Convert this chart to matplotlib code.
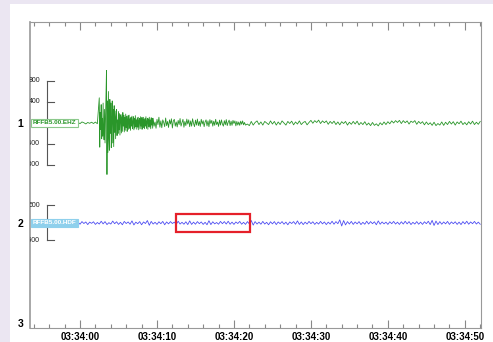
import matplotlib
matplotlib.use("Agg")
import matplotlib.pyplot as plt
from matplotlib.patches import Rectangle
from matplotlib.ticker import MultipleLocator, FuncFormatter
import numpy as np

plt.rcParams['font.family'] = ['Liberation Sans', 'DejaVu Sans']

# times are seconds after 03:34:00
# EHZ before the onset: t = -0.25 .. 2.25, every 0.25 s
ehz_pre = [8, -12, 20, 5, -18, 10, -6, 15, -10, 18, -14]

# EHZ around the onset: t = 2.5 .. 9.4375, every 0.0625 s
ehz_onset = [
    480, -460, 200, -120, 350, -300, 90, -250,
    380, -150, -320, 260, -380, 120, 540, 1000,
    -980, 420, -560, 600, -300, -520, 450, -200,
    380, -470, 100, 420, -380, 260, -450, 330,
    -180, 230, -300, 120, 260, -240, 60, -200,
    220, -130, 180, -230, 90, 160, -190, 120,
    -160, 200, -60, 150, -170, 110, -140, 170,
    -90, 130, -160, 40, 140, -120, 150, -100,
    80, -140, 110, -60, 130, -110, 30, 120,
    -130, 90, -100, 140, -70, 60, -120, 100,
    -80, 110, -130, 50, 90, -110, 120, -60,
    100, -120, 40, 110, -90, 70, -110, 90,
    -60, 120, -100, 30, 90, -120, 80, -70,
    110, -80, 60, -110, 100, -40, 90, -100,
]

# EHZ early coda: t = 9.5 .. 21.375, every 0.125 s
ehz_coda1 = [
    90, -60, 20, -100, 70, -30, 110, -80,
    40, -90, 60, 10, -70, 95, -50, 30,
    -85, 60, -20, 80, -95, 40, 70, -60,
    20, -75, 50, -30, 85, -60, 10, 70,
    -80, 30, -50, 75, -20, 60, -70, 40,
    -60, 80, -10, -70, 55, -40, 75, -50,
    30, -65, 70, -20, 45, -70, 20, 60,
    -55, 40, -70, 65, -10, 50, -60, 35,
    -45, 70, -30, 20, -65, 55, -40, 60,
    -20, -60, 45, -35, 65, -50, 15, 55,
    -50, 35, -45, 50, -10, 40, -55, 30,
    -40, 20, -45, 35, -25, 40, -35, 10,
]

# EHZ late coda: t = 21.5 .. 52.0, every 0.25 s
ehz_coda2 = [
    -40,
    -20, -50, 30, -40, 10, 40, -30, 20,
    -40, 30, 0, -30, 40, -20, 30, -40,
    20, -30, 40, 0, -40, 30, -10, 35,
    -35, 20, -20, 40, -30, 10, 30, -35,
    10, 50, -5, 45, 10, 55, -10, 40,
    5, 40, -25, 30, -10, 35, -30, 20,
    -35, 25, -10, 30, -40, 15, -25, 30,
    -20, 35, -35, 10, -30, 25, -40, 0,
    -50, 10, -45, -15, -55, 5, -35, 20,
    -30, 25, -15, 40, 0, 45, 10, 50,
    -10, 45, 5, 40, -20, 35, 10, 45,
    -25, 30, -10, 25, -35, 20, -30, 5,
    -45, 15, -50, -10, -40, 20, -45, 15,
    -30, 30, -20, 25, -40, 20, -15, 35,
    -30, 10, -35, 25, -20, 35, -30, 15,
    -25, 30,
]

# HDF: t = -0.25 .. 52.0, every 0.25 s (counts)
hdf = [
    20, -35, 40, -15, 30, -45, 25, -10,
    35, -40, 15, -30, 50, -25, 40, -45,
    10, -30, 55, -20, 35, -40, 20, -50,
    45, -15, 30, -35, 60, -55, 25, -20,
    40, -50, 30, -15, 70, -65, 45, -30,
    20, -40, 35, -20, 45, -50, 30, -25,
    40, -15, 25, -40, 50, -30, 20, -35,
    35, -45, 60, -40, 25, -35, 40, -20,
    30, -40, 20, -50, 65, -45, 35, -25,
    15, -35, 45, -20, 40, -30, 50, -35,
    25, -40, 30, -15, 45, -35, 20, -40,
    40, -25, 70, -60, 40, -30, 25, -35,
    45, -30, 20, -50, 35, -25, 40, -45,
    30, -20, 40, -35, 25, -50, 30, -15,
    40, -35, 60, -40, 30, -45, 25, -30,
    45, -20, 35, -40, 20, -30, 45, -25,
    30, -45, 25, -30, 50, -35, 40, -20,
    90, -85, 70, -55, 40, -30, 45, -40,
    30, -25, 40, -45, 20, -35, 50, -30,
    40, -20, 35, -50, 60, -35, 30, -25,
    25, -40, 35, -20, 45, -30, 25, -40,
    35, -30, 50, -25, 40, -45, 20, -30,
    40, -35, 25, -40, 35, -20, 50, -45,
    75, -70, 55, -45, 40, -35, 30, -25,
    45, -40, 30, -20, 35, -40, 25, -45,
    40, -25, 50, -35, 30, -20, 45, -30,
    25, -35,
]

channels = ["RFFB5.00.EHZ", "RFFB5.00.HDF"]
scale_ticks = [[800, 400, -400, -800], [500, -500]]
scale_span = [800, 500]
track_labels = ["1", "2", "3"]

# highlighted window (s) on track 2
box_t = (12.5, 22.1)

green = "#2a962a"
blue = "#3b3bf0"

fig = plt.figure(figsize=(4.93, 3.42), dpi=100, facecolor="#ebe6f2")
fig.patches.append(Rectangle((10 / 493, 0), 1, 1 - 4 / 342, transform=fig.transFigure,
                             facecolor="white", edgecolor="none", zorder=-10))
ax = fig.add_axes([30 / 493, 1 - 328 / 342, 451 / 493, 306 / 342])
ax.set_facecolor("white")

t_ehz = np.concatenate([
    -0.25 + 0.25 * np.arange(len(ehz_pre)),
    2.5 + 0.0625 * np.arange(len(ehz_onset)),
    9.5 + 0.125 * np.arange(len(ehz_coda1)),
    21.5 + 0.25 * np.arange(len(ehz_coda2)),
])
v_ehz = np.array(ehz_pre + ehz_onset + ehz_coda1 + ehz_coda2)
t_hdf = -0.25 + 0.25 * np.arange(len(hdf))

# units per count so the scale bars land at the tracks' heights
gain = [0.42 / 800, 0.175 / 500]

ax.plot(t_ehz, 1 - v_ehz * gain[0], color=green, lw=0.6)
ax.plot(t_hdf, 2 - np.array(hdf) * gain[1], color=blue, lw=0.6, alpha=0.9)

# scale bars
bar_x, tick_x, lab_x = -4.32, -3.35, -5.2
for i, (ticks, span) in enumerate(zip(scale_ticks, scale_span)):
    y0 = i + 1
    ax.plot([bar_x, bar_x], [y0 - span * gain[i], y0 + span * gain[i]], color="#555555", lw=0.8)
    for v in ticks:
        yy = y0 - v * gain[i]
        ax.plot([bar_x, tick_x], [yy, yy], color="#555555", lw=0.8)
        ax.text(lab_x, yy, str(v), ha="right", va="center", fontsize=5,
                color="#222222", clip_on=True)

# channel labels
ax.text(-0.45, 1, channels[0], ha="right", va="center", fontsize=4.6, color=green,
        fontweight="bold",
        bbox=dict(boxstyle="square,pad=0.25", fc="white", ec="#8cc98c", lw=0.8), zorder=5)
ax.text(-0.45, 2, channels[1], ha="right", va="center", fontsize=4.6, color="white",
        fontweight="bold",
        bbox=dict(boxstyle="square,pad=0.25", fc="#8fd0ec", ec="#8fd0ec", lw=0.8), zorder=5)

ax.add_patch(Rectangle((box_t[0], 1.91), box_t[1] - box_t[0], 0.18, fill=False,
                       edgecolor="#e5202a", lw=1.6, zorder=6))

ax.set_xlim(-6.5, 52.1)
ax.set_ylim(3.05, -0.01)

ax.set_yticks([1, 2, 3])
ax.set_yticklabels(track_labels, fontsize=7.5, fontweight="bold")
ax.tick_params(axis="y", length=0, pad=5)

ax.xaxis.set_major_locator(MultipleLocator(10))
ax.xaxis.set_minor_locator(MultipleLocator(2))
ax.xaxis.set_major_formatter(FuncFormatter(lambda s, p: "03:34:%02d" % int(round(s))))
ax.tick_params(axis="x", which="both", direction="in", top=True, bottom=True,
               color="#888888", labelsize=7, pad=3)
ax.tick_params(axis="x", which="major", length=6, width=0.8)
ax.tick_params(axis="x", which="minor", length=3, width=0.8)
for lab in ax.get_xticklabels():
    lab.set_fontweight("bold")

for side in ["left", "right", "top", "bottom"]:
    ax.spines[side].set_color("#999999")
ax.spines["left"].set_linewidth(1.2)

fig.savefig("out.png", dpi=100, facecolor=fig.get_facecolor())
